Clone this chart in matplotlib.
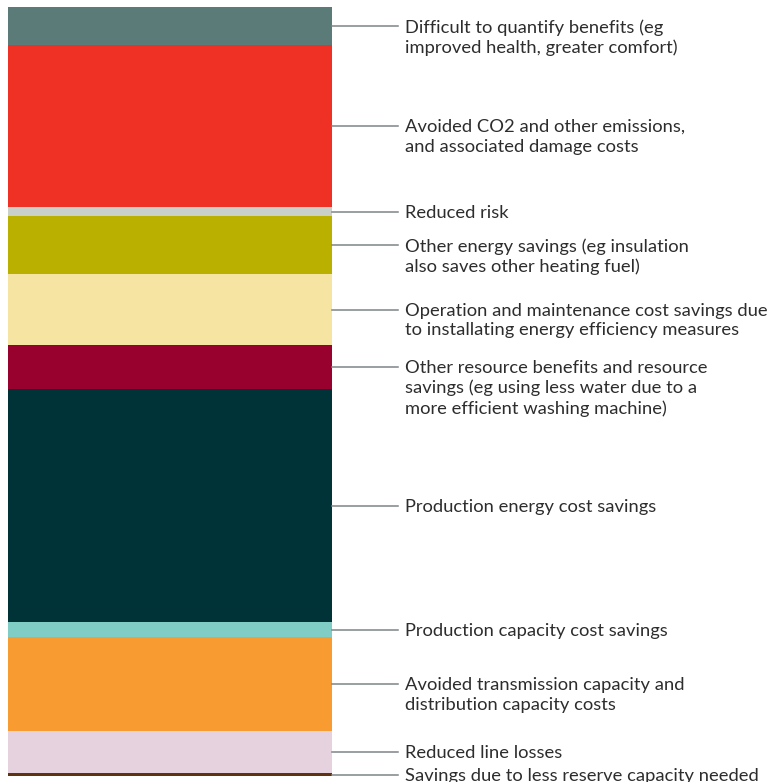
import matplotlib.pyplot as plt
import numpy as np

# benefit categories, top of the bar first
labels = [
    "Difficult to quantify benefits (eg\nimproved health, greater comfort)",
    "Avoided CO2 and other emissions,\nand associated damage costs",
    "Reduced risk",
    "Other energy savings (eg insulation\nalso saves other heating fuel)",
    "Operation and maintenance cost savings due\nto installating energy efficiency measures",
    "Other resource benefits and resource\nsavings (eg using less water due to a\nmore efficient washing machine)",
    "Production energy cost savings",
    "Production capacity cost savings",
    "Avoided transmission capacity and\ndistribution capacity costs",
    "Reduced line losses",
    "Savings due to less reserve capacity needed",
]
values = [38, 162, 9, 58, 71, 44, 233, 15, 94, 42, 3]
colors = ["#5b7b79", "#ee3124", "#c9cfc9", "#b9b000", "#f5e4a2", "#98002e",
          "#003338", "#7fcdc5", "#f89b30", "#e6d2de", "#5e3410"]

plt.rcParams['font.family'] = ['Lato', 'DejaVu Sans']

fig = plt.figure(figsize=(7.8, 7.82), dpi=100)
W, H = 780, 782
left, right, top, bottom = 8, 332, 7, 776
ax = fig.add_axes([left / W, 1 - bottom / H, (right - left) / W, (bottom - top) / H])

total = sum(values)
starts = np.concatenate([[0], np.cumsum(values)[:-1]])
for s, v, c in zip(starts, values, colors):
    ax.bar(0.5, v, bottom=s, width=1, color=c, edgecolor='none')

ax.set_xlim(0, 1)
ax.set_ylim(total, 0)
ax.axis('off')

bw = right - left
x_line1 = (398 - left) / bw
x_text = (405 - left) / bw
for s, v, lab in zip(starts, values, labels):
    yc = s + v / 2
    ax.plot([1.0, x_line1], [yc, yc], color='#7d8587', lw=1.1, clip_on=False)
    ax.annotate(lab, xy=(x_text, yc), xycoords=('axes fraction', 'data'),
                xytext=(0, 5.0), textcoords='offset points',
                va='top', ha='left', fontsize=13.2, color='#2d2d2d',
                linespacing=1.28, annotation_clip=False)

fig.savefig("out.png", dpi=100)
